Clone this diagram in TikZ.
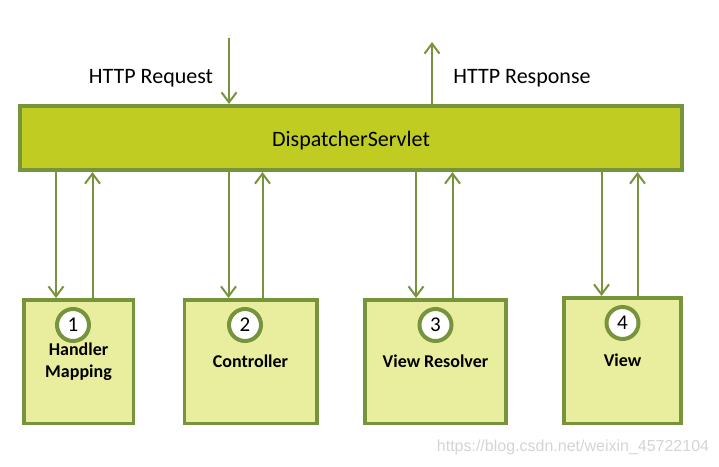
\documentclass[tikz,border=0pt]{standalone}
\usepackage{fontspec}
\setmainfont{Carlito}
\newfontfamily\markfont{Liberation Sans}
\usetikzlibrary{positioning, arrows.meta}
\definecolor{frame}{HTML}{77933C}
\definecolor{servletfill}{HTML}{C0CC22}
\definecolor{partfill}{HTML}{E9EE9E}
\definecolor{markgray}{HTML}{D4D4D4}

\begin{document}
\begin{tikzpicture}[x=1pt, y=-1pt, >={Straight Barb[length=10pt, width=15pt]},
    servlet/.style={draw=frame, fill=servletfill, line width=4pt, minimum width=662pt, minimum height=64pt,
      inner sep=0pt, text height=16pt, text depth=0pt, font=\fontsize{22}{24}\selectfont},
    part/.style={draw=frame, fill=partfill, line width=3.5pt, minimum height=123.5pt, inner sep=0pt,
      align=center, font=\fontsize{18}{22}\bfseries\selectfont},
    stepnum/.style={circle, draw=frame, fill=white, line width=4pt, minimum size=32pt, inner sep=0pt,
      font=\fontsize{21}{21}\selectfont},
    flow/.style={->, draw=frame, line width=2pt},
    lbl/.style={font=\fontsize{22}{24}\selectfont}]
  \useasboundingbox (0,0) rectangle (719,466);

  \node[servlet] (ds) at (351,138) {DispatcherServlet};
  \node[part, minimum width=109.5pt] (hm) at (78.5,361.5) {Handler\\Mapping};
  \node[part, minimum width=132.5pt] (ctl) at (250.5,361.5) {Controller};
  \node[part, minimum width=141pt] (vr) at (435.5,361.5) {View Resolver};
  \node[part, minimum width=117pt, minimum height=125.5pt] (vw) at (622.5,360.5) {View};

  \node[stepnum, below=9pt of hm.north, xshift=-5.5pt] (n1) {1};
  \node[stepnum, below=9pt of ctl.north, xshift=-5.5pt] (n2) {2};
  \node[stepnum, below=9pt of vr.north] (n3) {3};
  \node[stepnum, below=9pt of vw.north] (n4) {4};

  \coordinate (req) at (229,38);
  \coordinate (resp) at (432,42);
  \node[lbl] (reqlbl) at (151,78) {HTTP Request};
  \node[lbl] (resplbl) at (522,78) {HTTP Response};
  \draw[flow] (req) -- (req |- ds.north);
  \draw[flow] (resp |- ds.north) -- (resp);

  % calls down to each part and replies back up
  \foreach \p/\a/\b in {hm/-22.5/14, ctl/-22/12, vr/-19.5/17, vw/-21/15} {
    \path ([xshift=\a pt]\p.north) coordinate (\p-in)
          ([xshift=\b pt]\p.north) coordinate (\p-out);
    \draw[flow] (\p-in |- ds.south) -- (\p-in);
    \draw[flow] (\p-out) -- (\p-out |- ds.south);
  }

  \node[text=markgray, font=\markfont\fontsize{16}{16}\selectfont] (mark) at (573,447)
    {https://blog.csdn.net/weixin\_45722104};
\end{tikzpicture}
\end{document}
